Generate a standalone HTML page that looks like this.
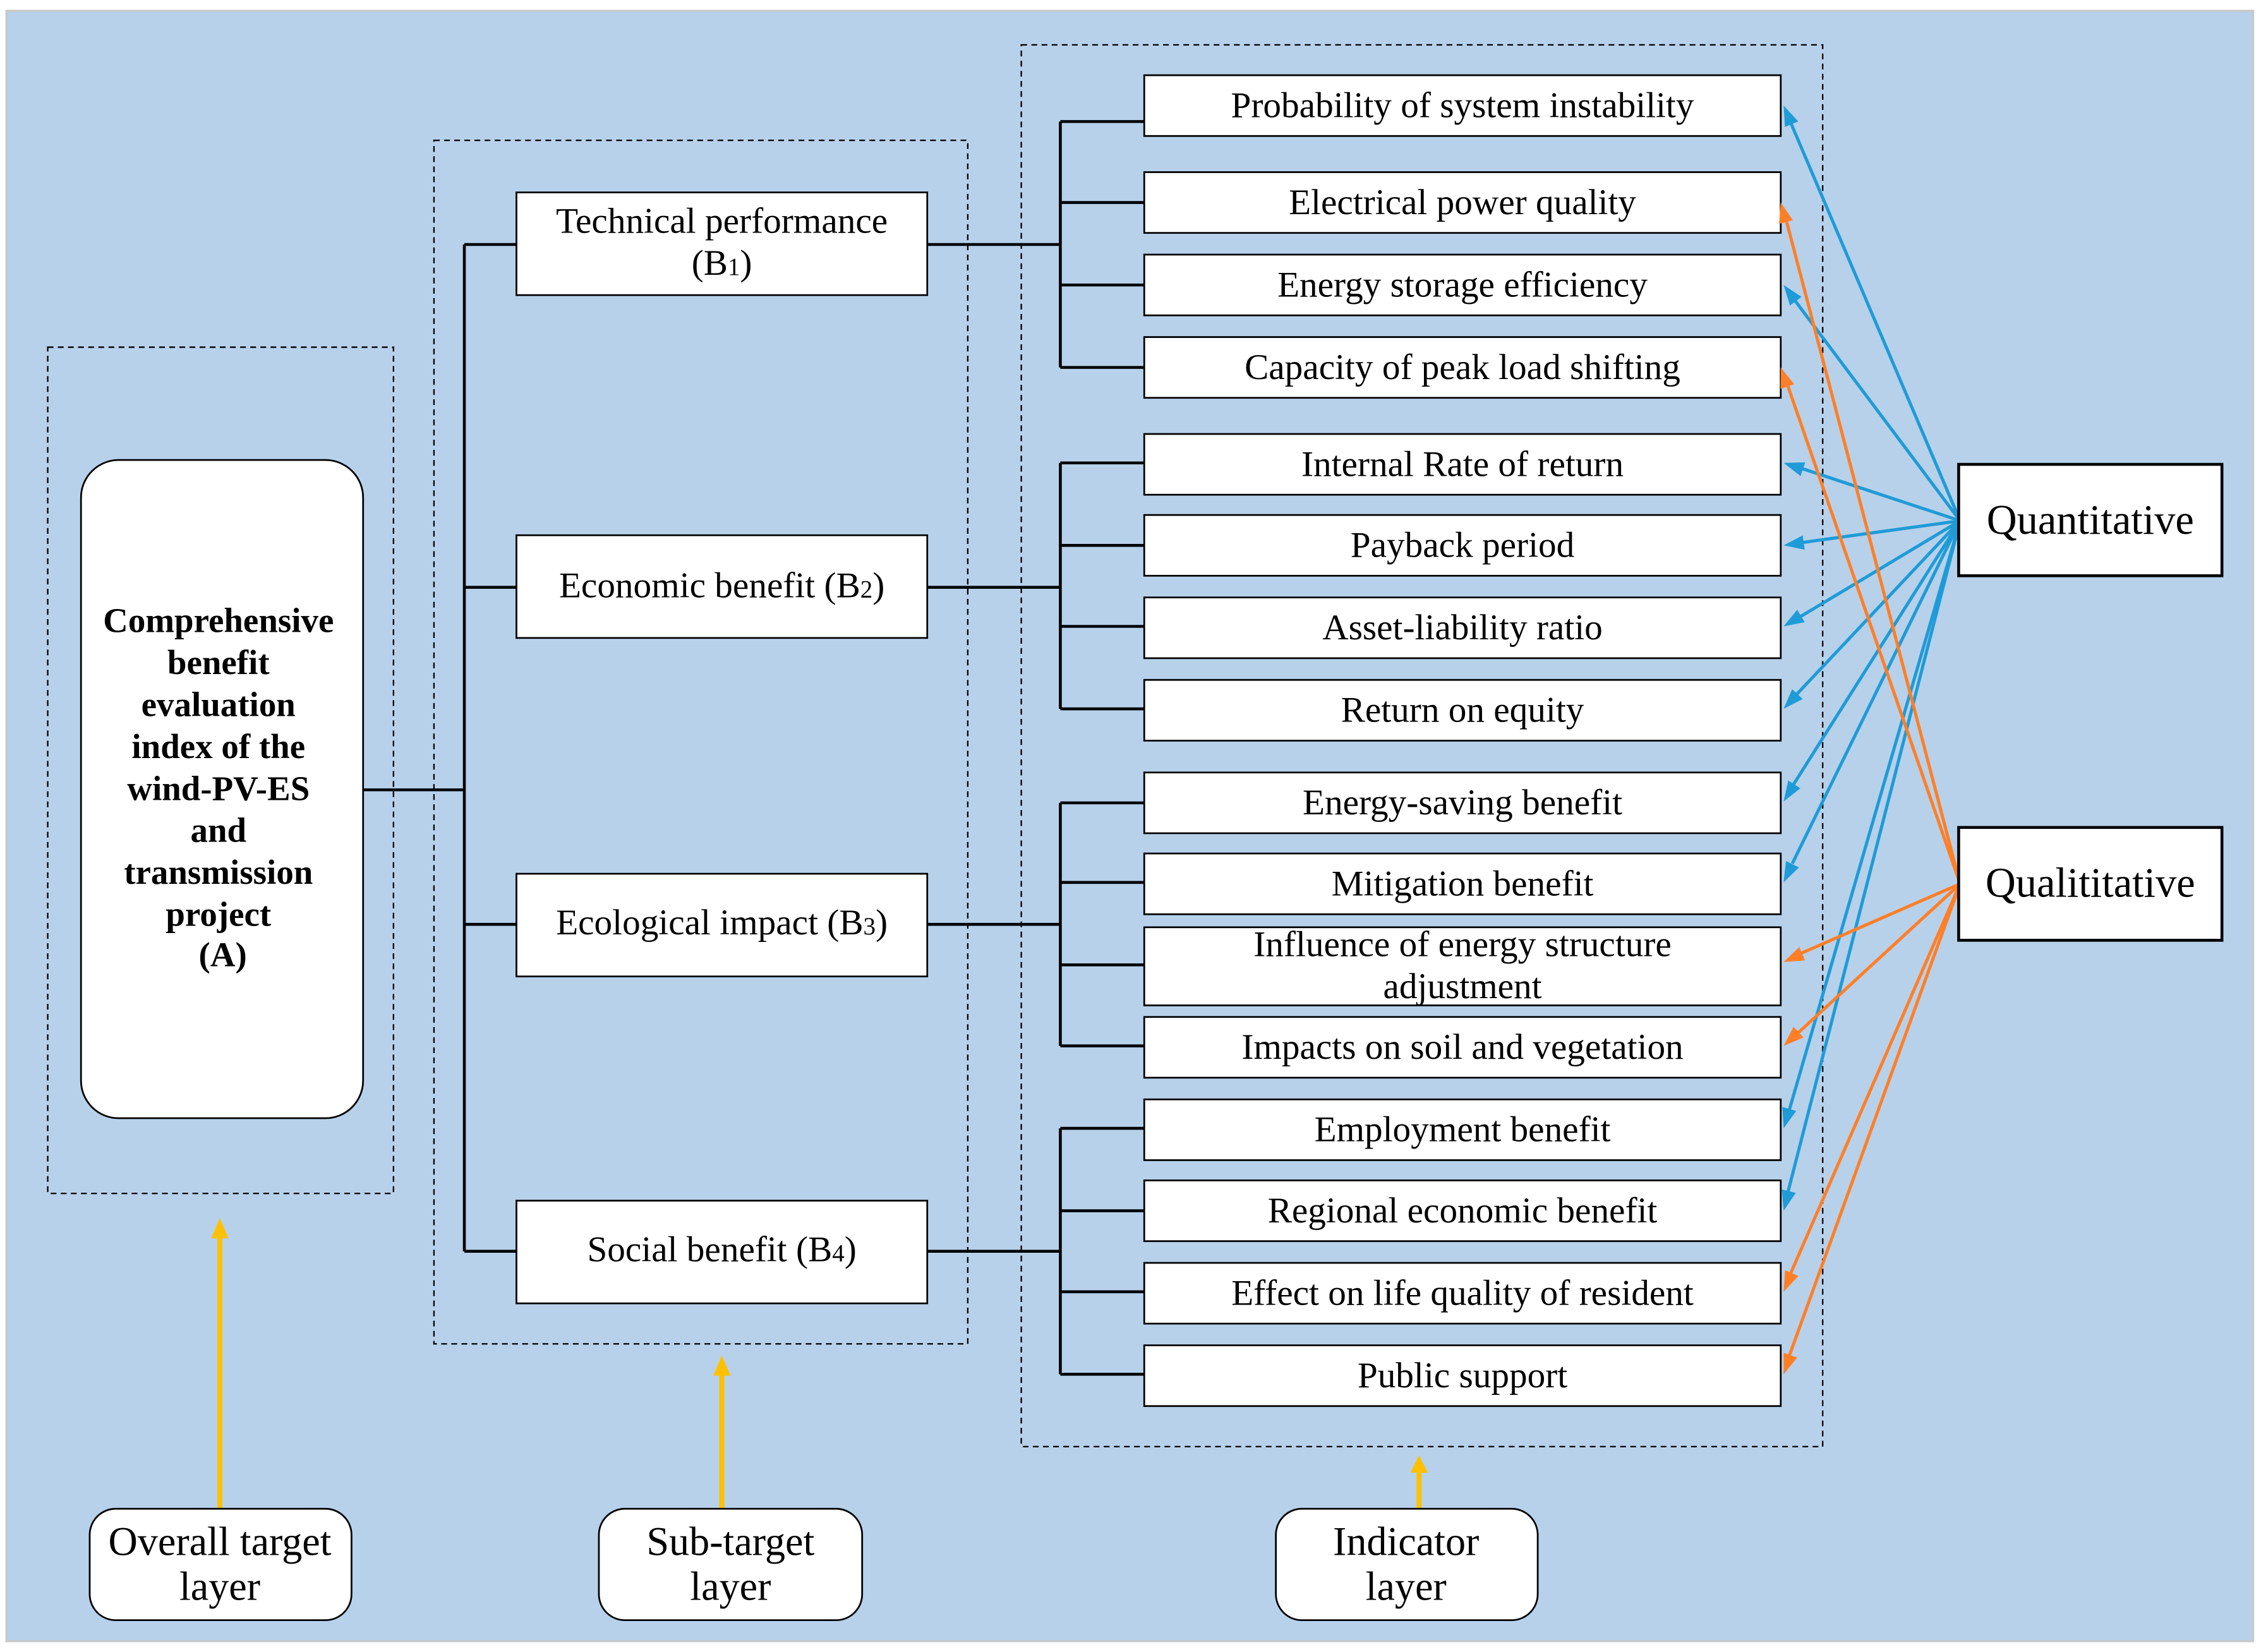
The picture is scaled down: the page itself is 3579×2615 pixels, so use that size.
<!DOCTYPE html>
<html><head><meta charset="utf-8"><style>
html,body{margin:0;padding:0;background:#fff}
svg{display:block}
text{font-family:"Liberation Serif",serif;fill:#000}
</style></head><body>
<svg width="3579" height="2615" viewBox="0 0 1563 1142" xmlns="http://www.w3.org/2000/svg">
<rect x="0" y="0" width="1563" height="1142" fill="#fff"/>
<rect x="4.5" y="7.5" width="1553" height="1127" fill="#b7d1eb" stroke="#c8c8c8" stroke-width="1.5"/>

<g fill="none" stroke="#000" stroke-width="1" stroke-dasharray="4,3">
<rect x="33" y="240" width="239" height="585"/>
<rect x="300" y="97" width="369" height="832"/>
<rect x="706" y="31" width="554" height="969"/>
</g>

<g stroke="#000" stroke-width="2" fill="none">
<path d="M248,546 H321 M321,169 V865 M321,169 H357 M321,406 H357 M321,639 H357 M321,865 H357"/>
<path d="M641,169 H733 M733,84 V254 M733,84 H791 M733,140 H791 M733,197 H791 M733,254 H791"/>
<path d="M641,406 H733 M733,320 V490 M733,320 H791 M733,377 H791 M733,433 H791 M733,490 H791"/>
<path d="M641,639 H733 M733,555 V723 M733,555 H791 M733,610 H791 M733,667 H791 M733,723 H791"/>
<path d="M641,865 H733 M733,780 V950 M733,780 H791 M733,837 H791 M733,893 H791 M733,950 H791"/>
</g>

<rect x="56" y="318" width="195" height="455" rx="26" fill="#fff" stroke="#000" stroke-width="1.2"/>
<text font-size="24" font-weight="bold" text-anchor="middle">
<tspan x="154" y="437">Comprehensive</tspan>
<tspan x="154" y="466">benefit</tspan>
<tspan x="154" y="495">evaluation</tspan>
<tspan x="154" y="524">index of the</tspan>
<tspan x="154" y="553">wind-PV-ES</tspan>
<tspan x="154" y="582">and</tspan>
<tspan x="154" y="611">transmission</tspan>
<tspan x="154" y="640">project</tspan>
<tspan x="154" y="668">(A)</tspan>
</text>

<g fill="#fff" stroke="#000" stroke-width="1.2">
<rect x="357" y="133" width="284" height="71"/>
<rect x="357" y="370" width="284" height="71"/>
<rect x="357" y="604" width="284" height="71"/>
<rect x="357" y="830" width="284" height="71"/>
</g>
<g font-size="25" text-anchor="middle">
<text x="499" y="161">Technical performance</text>
<text x="499" y="190">(B<tspan font-size="17">1</tspan>)</text>
<text x="499" y="413">Economic benefit (B<tspan font-size="17">2</tspan>)</text>
<text x="499" y="646">Ecological  impact (B<tspan font-size="17">3</tspan>)</text>
<text x="499" y="872">Social benefit (B<tspan font-size="17">4</tspan>)</text>
</g>

<g fill="#fff" stroke="#000" stroke-width="1.2">
<rect x="791" y="52" width="440" height="42"/>
<rect x="791" y="119" width="440" height="42"/>
<rect x="791" y="176" width="440" height="42"/>
<rect x="791" y="233" width="440" height="42"/>
<rect x="791" y="300" width="440" height="42"/>
<rect x="791" y="356" width="440" height="42"/>
<rect x="791" y="413" width="440" height="42"/>
<rect x="791" y="470" width="440" height="42"/>
<rect x="791" y="534" width="440" height="42"/>
<rect x="791" y="590" width="440" height="42"/>
<rect x="791" y="641" width="440" height="54"/>
<rect x="791" y="703" width="440" height="42"/>
<rect x="791" y="760" width="440" height="42"/>
<rect x="791" y="816" width="440" height="42"/>
<rect x="791" y="873" width="440" height="42"/>
<rect x="791" y="930" width="440" height="42"/>
</g>
<g font-size="25" text-anchor="middle">
<text x="1011" y="81">Probability of system instability</text>
<text x="1011" y="148">Electrical power quality</text>
<text x="1011" y="205">Energy storage efficiency</text>
<text x="1011" y="262">Capacity of peak load shifting</text>
<text x="1011" y="329">Internal Rate of return</text>
<text x="1011" y="385">Payback period</text>
<text x="1011" y="442">Asset-liability ratio</text>
<text x="1011" y="499">Return on equity</text>
<text x="1011" y="563">Energy-saving benefit</text>
<text x="1011" y="619">Mitigation benefit</text>
<text x="1011" y="661">Influence of energy structure</text>
<text x="1011" y="690">adjustment</text>
<text x="1011" y="732">Impacts on soil and vegetation</text>
<text x="1011" y="789">Employment benefit</text>
<text x="1011" y="845">Regional economic benefit</text>
<text x="1011" y="902">Effect on life  quality of  resident</text>
<text x="1011" y="959">Public support</text>
</g>

<g stroke="#1f9bd7" stroke-width="2.2" fill="none">
<line x1="1355" y1="360" x2="1238" y2="85"/>
<line x1="1355" y1="360" x2="1241" y2="208"/>
<line x1="1355" y1="360" x2="1246" y2="324"/>
<line x1="1355" y1="360" x2="1246" y2="375"/>
<line x1="1355" y1="360" x2="1245" y2="426"/>
<line x1="1355" y1="360" x2="1242" y2="480"/>
<line x1="1355" y1="360" x2="1240" y2="542"/>
<line x1="1355" y1="360" x2="1239" y2="597"/>
<line x1="1355" y1="360" x2="1237" y2="767"/>
<line x1="1355" y1="360" x2="1236" y2="824"/>
</g>
<g fill="#1f9bd7">
<polygon points="1233,73 1243.1,83.9 1233.9,87.8"/>
<polygon points="1233,197 1245.4,205.2 1237.4,211.2"/>
<polygon points="1233,320 1247.9,319.6 1244.7,329.1"/>
<polygon points="1233,377 1246.2,370.1 1247.6,380.0"/>
<polygon points="1233,433 1242.4,421.5 1247.6,430.1"/>
<polygon points="1233,490 1238.9,476.4 1246.2,483.2"/>
<polygon points="1233,554 1236.2,539.5 1244.6,544.9"/>
<polygon points="1233,610 1234.6,595.2 1243.6,599.6"/>
<polygon points="1233,780 1232.1,765.2 1241.7,768.0"/>
<polygon points="1233,837 1231.7,822.2 1241.4,824.6"/>
</g>
<g stroke="#ff7f27" stroke-width="2.2" fill="none">
<line x1="1355" y1="611" x2="1235" y2="153"/>
<line x1="1355" y1="611" x2="1236" y2="267"/>
<line x1="1355" y1="611" x2="1245" y2="659"/>
<line x1="1355" y1="611" x2="1243" y2="714"/>
<line x1="1355" y1="611" x2="1238" y2="880"/>
<line x1="1355" y1="611" x2="1237" y2="937"/>
</g>
<g fill="#ff7f27">
<polygon points="1231,140 1239.4,152.2 1229.8,154.8"/>
<polygon points="1231,254 1240.3,265.6 1230.9,268.8"/>
<polygon points="1233,665 1243.8,654.7 1247.8,663.9"/>
<polygon points="1233,723 1239.9,709.8 1246.7,717.2"/>
<polygon points="1233,893 1234.0,878.1 1243.2,882.1"/>
<polygon points="1233,950 1233.0,935.1 1242.4,938.5"/>
</g>

<g fill="#fff" stroke="#000" stroke-width="2">
<rect x="1354" y="321" width="182" height="77"/>
<rect x="1354" y="572" width="182" height="78"/>
</g>
<g font-size="29" text-anchor="middle">
<text x="1445" y="369">Quantitative</text>
<text x="1445" y="620">Qualititative</text>
</g>

<g stroke="#ffc000" stroke-width="3.5">
<line x1="152" y1="1043" x2="152" y2="854"/>
<line x1="499" y1="1043" x2="499" y2="949"/>
<line x1="981" y1="1043" x2="981" y2="1016"/>
</g>
<g fill="#ffc000">
<polygon points="152,842 146,856 158,856"/>
<polygon points="499,937 493,951 505,951"/>
<polygon points="981,1006 975,1018 987,1018"/>
</g>

<g fill="#fff" stroke="#000" stroke-width="1.2">
<rect x="62" y="1043" width="181" height="77" rx="18"/>
<rect x="414" y="1043" width="182" height="77" rx="18"/>
<rect x="882" y="1043" width="181" height="77" rx="18"/>
</g>
<g font-size="28" text-anchor="middle">
<text x="152" y="1075">Overall target</text>
<text x="152" y="1106">layer</text>
<text x="505" y="1075">Sub-target</text>
<text x="505" y="1106">layer</text>
<text x="972" y="1075">Indicator</text>
<text x="972" y="1106">layer</text>
</g>
</svg>
</body></html>
